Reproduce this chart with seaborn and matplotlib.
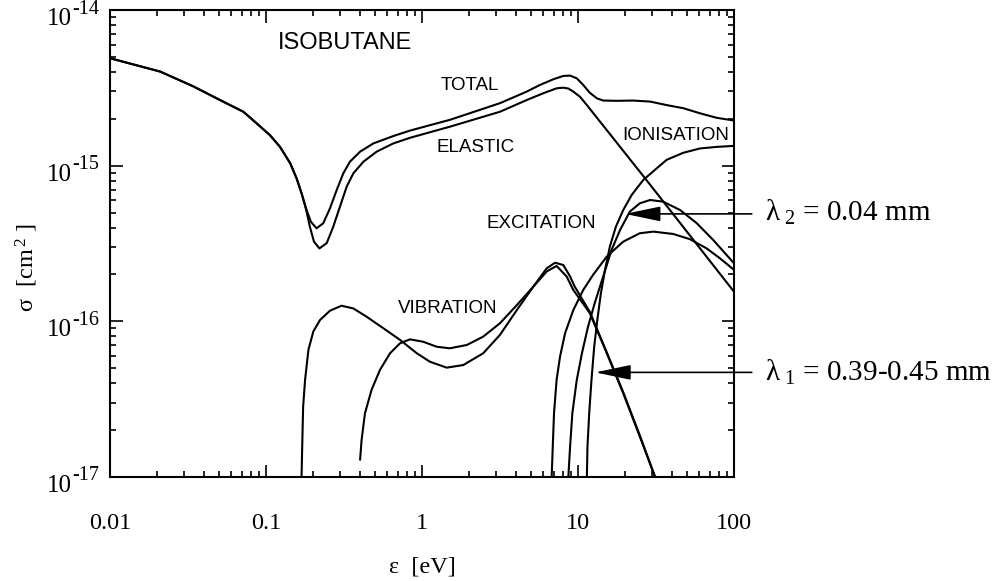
import matplotlib
matplotlib.use("Agg")
import matplotlib.pyplot as plt
from matplotlib.ticker import FixedLocator, FixedFormatter, LogLocator, NullFormatter
from matplotlib.transforms import offset_copy
import pandas as pd
import seaborn as sns

# Electron cross sections in isobutane (energy in eV, sigma in cm^2)
total_energy = [0.010, 0.021, 0.034, 0.056, 0.0716, 0.0871, 0.106, 0.123, 0.143, 0.157,
                0.169, 0.182, 0.194, 0.211, 0.233, 0.257, 0.284, 0.313, 0.345, 0.401,
                0.488, 0.655, 0.838, 1.125, 1.51, 3.16, 4.69, 5.7, 6.95, 8.05, 8.9,
                9.82, 10.8, 11.9, 13.2, 14.5, 17.7, 22.6, 29.0, 37.0, 47.3, 60.5,
                77.4, 100.0]
total_sigma = [4.9e-15, 4.02e-15, 3.24e-15, 2.51e-15, 2.22e-15, 1.87e-15, 1.57e-15, 1.32e-15,
               1.035e-15, 8.3e-16, 6.65e-16, 5.19e-16, 4.36e-16, 3.96e-16, 4.27e-16, 5.32e-16,
               6.98e-16, 8.93e-16, 1.06e-15, 1.23e-15, 1.39e-15, 1.55e-15, 1.68e-15,
               1.82e-15, 1.97e-15, 2.52e-15, 2.99e-15, 3.3e-15, 3.59e-15, 3.77e-15,
               3.79e-15, 3.64e-15, 3.3e-15, 2.94e-15, 2.71e-15, 2.62e-15, 2.61e-15,
               2.62e-15, 2.58e-15, 2.45e-15, 2.34e-15, 2.17e-15, 2.03e-15, 1.95e-15]

elastic_energy = [0.010, 0.021, 0.034, 0.056, 0.0716, 0.0871, 0.106, 0.123, 0.143, 0.157,
                  0.169, 0.181, 0.191, 0.203, 0.220, 0.245, 0.270, 0.298, 0.329, 0.363,
                  0.421, 0.512, 0.655, 0.838, 1.125, 1.51, 3.16, 4.69, 6.0, 7.29, 8.05,
                  8.67, 9.33, 10.3, 11.4, 26.9, 100.0]
elastic_sigma = [4.9e-15, 4.02e-15, 3.24e-15, 2.51e-15, 2.22e-15, 1.87e-15, 1.57e-15, 1.32e-15,
                 1.035e-15, 8.3e-16, 6.65e-16, 5.2e-16, 4.06e-16, 3.25e-16, 2.94e-16,
                 3.18e-16, 4.06e-16, 5.46e-16, 7.33e-16, 8.93e-16, 1.06e-15, 1.23e-15,
                 1.39e-15, 1.51e-15, 1.64e-15, 1.78e-15, 2.22e-15, 2.64e-15, 2.92e-15,
                 3.14e-15, 3.17e-15, 3.13e-15, 2.99e-15, 2.77e-15, 2.45e-15, 8.3e-16,
                 1.55e-16]

vib1_energy = [0.169, 0.171, 0.173, 0.178, 0.187, 0.201, 0.222, 0.257, 0.305, 0.363, 0.442,
               0.565, 0.723, 0.925, 1.125, 1.44, 1.84, 2.47, 3.16, 4.05, 5.17, 6.3, 7.29,
               8.46, 9.33, 11.9, 15.3, 19.5, 24.9, 31.2]
vib1_sigma = [1.0e-17, 1.73e-17, 2.83e-17, 4.2e-17, 6.55e-17, 8.6e-17, 1.02e-16, 1.17e-16,
              1.26e-16, 1.21e-16, 1.07e-16, 9.03e-17, 7.6e-17, 6.24e-17, 5.5e-17, 5.04e-17,
              5.24e-17, 6.24e-17, 8.18e-17, 1.18e-16, 1.67e-16, 2.09e-16, 2.27e-16,
              1.94e-16, 1.59e-16, 1.13e-16, 6.24e-17, 3.45e-17, 1.82e-17, 1.0e-17]

vib2_energy = [0.401, 0.41, 0.431, 0.475, 0.538, 0.624, 0.723, 0.838, 1.02, 1.24, 1.51,
               1.94, 2.47, 3.16, 4.05, 5.17, 6.3, 7.13, 8.05, 8.9, 9.5, 11.9, 15.3,
               19.5, 24.9, 31.2]
vib2_sigma = [1.29e-17, 1.73e-17, 2.57e-17, 3.63e-17, 4.88e-17, 6.24e-17, 7.23e-17, 7.66e-17,
              7.39e-17, 6.87e-17, 6.71e-17, 7.05e-17, 7.98e-17, 9.72e-17, 1.27e-16, 1.67e-16,
              2.19e-16, 2.38e-16, 2.3e-16, 1.94e-16, 1.68e-16, 1.15e-16, 6.3e-17, 3.5e-17,
              1.85e-17, 1.0e-17]

exc1_energy = [6.78, 6.89, 7.02, 7.29, 7.67, 8.26, 9.33, 10.8, 12.5, 15.3, 19.5, 24.9,
               30.4, 40.8, 52.2, 66.8, 81.3, 100.0]
exc1_sigma = [1.0e-17, 1.57e-17, 2.57e-17, 4.2e-17, 5.93e-17, 8.38e-17, 1.18e-16, 1.59e-16,
              1.99e-16, 2.61e-16, 3.25e-16, 3.68e-16, 3.77e-16, 3.64e-16, 3.37e-16,
              2.94e-16, 2.54e-16, 2.14e-16]

exc2_energy = [8.67, 8.9, 9.2, 9.82, 10.6, 11.6, 12.8, 14.5, 16.4, 18.6, 21.5, 24.9, 29.0,
               35.2, 45.1, 57.7, 73.6, 100.0]
exc2_sigma = [1.0e-17, 1.57e-17, 2.57e-17, 4.2e-17, 6.24e-17, 9.25e-17, 1.31e-16, 1.94e-16,
              2.87e-16, 3.86e-16, 5.07e-16, 5.73e-16, 6.02e-16, 5.87e-16, 5.19e-16,
              4.27e-16, 3.33e-16, 2.36e-16]

ion_energy = [11.4, 11.5, 11.8, 12.2, 12.7, 13.3, 14.0, 14.9, 16.0, 17.5, 19.5, 22.1, 26.2,
              31.9, 37.0, 47.3, 60.5, 77.4, 100.0]
ion_sigma = [1.0e-17, 1.57e-17, 2.57e-17, 4.2e-17, 6.86e-17, 1.02e-16, 1.5e-16, 2.14e-16,
             3.02e-16, 4.06e-16, 5.19e-16, 6.49e-16, 8.09e-16, 9.6e-16, 1.09e-15, 1.21e-15,
             1.29e-15, 1.32e-15, 1.34e-15]

x_ticks = [0.01, 0.1, 1, 10, 100]
x_tick_labels = ["0.01", "0.1", "1", "10", "100"]
y_ticks = [1e-17, 1e-16, 1e-15, 1e-14]
y_tick_exponents = ["-17", "-16", "-15", "-14"]

curves = {
    "total": (total_energy, total_sigma),
    "elastic": (elastic_energy, elastic_sigma),
    "vibration 1": (vib1_energy, vib1_sigma),
    "vibration 2": (vib2_energy, vib2_sigma),
    "excitation 1": (exc1_energy, exc1_sigma),
    "excitation 2": (exc2_energy, exc2_sigma),
    "ionisation": (ion_energy, ion_sigma),
}
frames = []
for name, (e, s) in curves.items():
    frames.append(pd.DataFrame({"energy": e, "sigma": s, "curve": name}))
df = pd.concat(frames, ignore_index=True)

sns.set_theme(style="ticks")
plt.rcParams.update({
    "font.family": ["Liberation Serif", "DejaVu Serif"],
    "mathtext.fontset": "custom",
    "mathtext.rm": "Liberation Serif",
    "mathtext.it": "Liberation Serif:italic",
    "mathtext.bf": "Liberation Serif:bold",
    "mathtext.default": "rm",
    "axes.linewidth": 1.5,
    "axes.edgecolor": "black",
    "text.color": "black",
    "axes.labelcolor": "black",
    "xtick.color": "black",
    "ytick.color": "black",
})

fig = plt.figure(figsize=(10.02, 5.81), dpi=100)
ax = fig.add_axes([110 / 1002, 1 - 477 / 581, 624 / 1002, 467 / 581])

sns.lineplot(data=df, x="energy", y="sigma", units="curve", estimator=None,
             sort=False, color="black", linewidth=1.5, legend=False, ax=ax)

ax.set_xscale("log")
ax.set_yscale("log")
ax.set_xlim(0.01, 100)
ax.set_ylim(1e-17, 1e-14)

ax.xaxis.set_major_locator(FixedLocator(x_ticks))
ax.xaxis.set_major_formatter(FixedFormatter(x_tick_labels))
ax.yaxis.set_major_locator(FixedLocator(y_ticks))
ax.yaxis.set_major_formatter(NullFormatter())
for axis in (ax.xaxis, ax.yaxis):
    axis.set_minor_locator(LogLocator(base=10, subs=range(2, 10), numticks=20))
    axis.set_minor_formatter(NullFormatter())

ax.tick_params(which="both", direction="in", top=True, right=True, width=1.2)
ax.tick_params(which="major", length=9)
ax.tick_params(which="minor", length=4)
ax.tick_params(axis="x", which="major", pad=26, labelsize=17.5)

# decade labels on the sigma axis: mantissa with a raised exponent
base_tr = offset_copy(ax.get_yaxis_transform(), fig=fig, x=-38, y=-9, units="dots")
exp_tr = offset_copy(ax.get_yaxis_transform(), fig=fig, x=-38, y=1, units="dots")
for yv, ex in zip(y_ticks, y_tick_exponents):
    ax.text(0, yv, "10", transform=base_tr, fontsize=18, ha="right", va="center")
    ax.text(0, yv, ex, transform=exp_tr, fontsize=14.5, ha="left", va="center")

ax.set_xlabel(r"ε  [eV]", fontsize=17.5, va="center")
ax.xaxis.set_label_coords(0.5, (477 - 567) / 467)
ax.set_ylabel(r"σ  [cm$^{\,2}$ ]", fontsize=17.5, va="center")
ax.yaxis.set_label_coords((27 - 110) / 624, (477 - 268) / 467)

sans = ["Liberation Sans", "DejaVu Sans"]
ax.text(0.32, 6.14e-15, "ISOBUTANE", family=sans, fontsize=17, ha="center", va="center")
curve_labels = [
    ("TOTAL", 2.03, 3.27e-15),
    ("ELASTIC", 2.22, 1.31e-15),
    ("IONISATION", 42.5, 1.57e-15),
    ("EXCITATION", 5.8, 4.23e-16),
    ("VIBRATION", 1.455, 1.21e-16),
]
for txt, xe, ys in curve_labels:
    ax.text(xe, ys, txt, family=sans, fontsize=13.5, ha="center", va="center")

# mean free path markers
arrow = dict(arrowstyle="-|>,head_length=1.1,head_width=0.23", color="black",
             lw=1.2, shrinkA=0, shrinkB=0, mutation_scale=20)
ax.annotate("", xy=(20.0, 4.9e-16), xytext=(130.0, 4.9e-16), arrowprops=arrow,
            annotation_clip=False)
ax.annotate("", xy=(12.9, 4.7e-17), xytext=(130.0, 4.7e-17), arrowprops=arrow,
            annotation_clip=False)
fig.text(765 / 1002, 1 - 212 / 581, r"λ$_{\ 2}$ = 0.04 mm", fontsize=21, va="center")
fig.text(765 / 1002, 1 - 372 / 581, r"λ$_{\ 1}$ = 0.39-0.45 mm", fontsize=21, va="center")

fig.savefig("out.png", dpi=100)
